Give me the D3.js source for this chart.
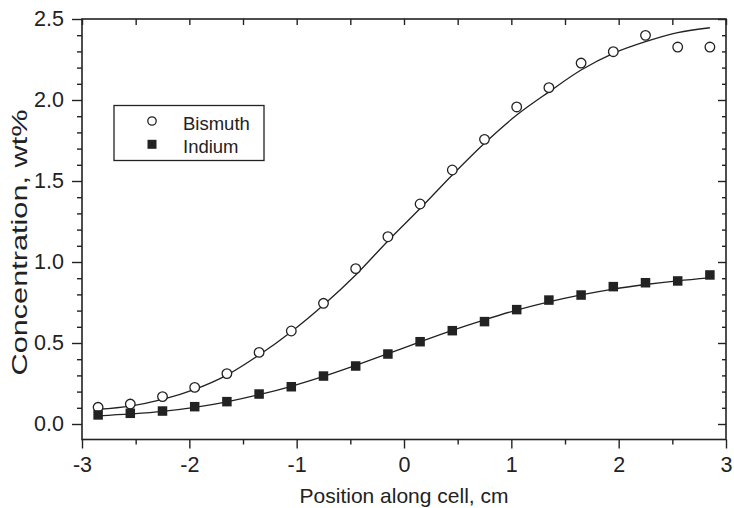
<!DOCTYPE html>
<html><head><meta charset="utf-8">
<script src="https://cdn.jsdelivr.net/npm/d3@7"></script>
<style>body{margin:0;background:#fff}text{font-family:Arial,"Liberation Sans",Helvetica,sans-serif;fill:#222}</style>
</head><body><svg id="c" width="734" height="508"></svg>
<script>
const positions = [-2.85,-2.55,-2.25,-1.95,-1.65,-1.35,-1.05,-0.75,-0.45,-0.15,0.15,0.45,0.75,1.05,1.35,1.65,1.95,2.25,2.55,2.85];
const bismuth = [0.103,0.123,0.169,0.226,0.311,0.442,0.574,0.745,0.959,1.156,1.358,1.568,1.757,1.957,2.076,2.228,2.298,2.399,2.327,2.327];
const indium = [0.056,0.066,0.080,0.107,0.138,0.185,0.230,0.296,0.358,0.432,0.508,0.576,0.632,0.706,0.765,0.796,0.848,0.872,0.883,0.920];
const fitX = [-2.85,-2.55,-2.25,-1.95,-1.65,-1.35,-1.05,-0.75,-0.45,-0.15,0.15,0.45,0.75,1.05,1.35,1.65,1.95,2.25,2.55,2.85];
const bismuthFit = [0.091,0.111,0.152,0.214,0.302,0.426,0.570,0.735,0.920,1.130,1.330,1.537,1.733,1.907,2.050,2.185,2.288,2.360,2.416,2.446];
const indiumFit = [0.050,0.062,0.078,0.103,0.137,0.181,0.233,0.294,0.362,0.434,0.507,0.578,0.643,0.703,0.754,0.797,0.833,0.861,0.884,0.902];
const xTicks = [-3,-2,-1,0,1,2,3];
const xTickLabels = ["-3","-2","-1","0","1","2","3"];
const xMinor = [-2.5,-1.5,-0.5,0.5,1.5,2.5];
const yTicks = [0,0.5,1,1.5,2,2.5];
const yTickLabels = ["0.0","0.5","1.0","1.5","2.0","2.5"];
const yMinor = [0.1,0.2,0.3,0.4,0.6,0.7,0.8,0.9,1.1,1.2,1.3,1.4,1.6,1.7,1.8,1.9,2.1,2.2,2.3,2.4];
const legendItems = ["Bismuth","Indium"];

const L=82,R=726,T=19,B=439.5;
const x=d3.scaleLinear().domain([-3,3]).range([L,R]);
const y=d3.scaleLinear().domain([0,2.5]).range([424,T]);
const svg=d3.select("#c");
const ink="#222";

svg.append("rect").attr("x",L).attr("y",T).attr("width",R-L).attr("height",B-T)
  .attr("fill","none").attr("stroke",ink).attr("stroke-width",1.6);

function styleAxis(g){g.select(".domain").remove();g.selectAll("line").attr("stroke",ink).attr("stroke-width",1.4);}
svg.append("g").attr("transform",`translate(0,${B})`)
  .call(d3.axisBottom(x).tickValues(xTicks).tickSize(9).tickPadding(8).tickFormat((d,i)=>xTickLabels[i]))
  .call(styleAxis).call(g=>g.selectAll("text").attr("font-size",21.5).attr("fill",ink));
svg.append("g").attr("transform",`translate(0,${B})`)
  .call(d3.axisBottom(x).tickValues(xMinor).tickSize(5).tickFormat(""))
  .call(styleAxis);
svg.append("g").attr("transform",`translate(0,${T})`)
  .call(d3.axisBottom(x).tickValues(xTicks.concat(xMinor)).tickSize(6).tickFormat(""))
  .call(styleAxis);
svg.append("g").attr("transform",`translate(${L},0)`)
  .call(d3.axisLeft(y).tickValues(yTicks).tickSize(10).tickPadding(8).tickFormat((d,i)=>yTickLabels[i]))
  .call(styleAxis).call(g=>g.selectAll("text").attr("font-size",21.5).attr("fill",ink));
svg.append("g").attr("transform",`translate(${L},0)`)
  .call(d3.axisLeft(y).tickValues(yMinor).tickSize(5).tickFormat(""))
  .call(styleAxis);
svg.append("g").attr("transform",`translate(${R},0)`)
  .call(d3.axisLeft(y).tickValues(yTicks).tickSize(8).tickFormat(""))
  .call(styleAxis);
svg.append("g").attr("transform",`translate(${R},0)`)
  .call(d3.axisLeft(y).tickValues(yMinor).tickSize(4).tickFormat(""))
  .call(styleAxis);

svg.append("text").attr("x",(L+R)/2).attr("y",503).attr("text-anchor","middle")
  .attr("font-size",21).text("Position along cell, cm");
svg.append("text").attr("transform",`translate(27,242.5) rotate(-90)`).attr("text-anchor","middle")
  .attr("font-size",22).attr("textLength",266).attr("lengthAdjust","spacingAndGlyphs")
  .text("Concentration, wt%");

const line=(vals)=>d3.line().x((d,i)=>x(fitX[i])).y(d=>y(d)).curve(d3.curveCatmullRom)(vals);
svg.append("path").attr("d",line(bismuthFit)).attr("fill","none").attr("stroke",ink).attr("stroke-width",1.3);
svg.append("path").attr("d",line(indiumFit)).attr("fill","none").attr("stroke",ink).attr("stroke-width",1.3);

svg.append("g").selectAll("circle").data(bismuth).join("circle")
  .attr("cx",(d,i)=>x(positions[i])).attr("cy",d=>y(d)).attr("r",4.8)
  .attr("fill","#fff").attr("stroke",ink).attr("stroke-width",1.3);
const s=9.5;
svg.append("g").selectAll("rect").data(indium).join("rect")
  .attr("x",(d,i)=>x(positions[i])-s/2).attr("y",d=>y(d)-s/2).attr("width",s).attr("height",s)
  .attr("fill",ink);

const lg=svg.append("g");
lg.append("rect").attr("x",114).attr("y",105.5).attr("width",150).attr("height",55)
  .attr("fill","#fff").attr("stroke",ink).attr("stroke-width",1.3);
lg.append("circle").attr("cx",152).attr("cy",121).attr("r",4.2).attr("fill","#fff").attr("stroke",ink).attr("stroke-width",1.3);
lg.append("rect").attr("x",152-4.5).attr("y",144.3-4.5).attr("width",9).attr("height",9).attr("fill",ink);
lg.selectAll("text.l").data(legendItems).join("text").attr("class","l")
  .attr("x",183).attr("y",(d,i)=>130+i*22.7).attr("font-size",18.5).text(d=>d);
</script></body></html>
